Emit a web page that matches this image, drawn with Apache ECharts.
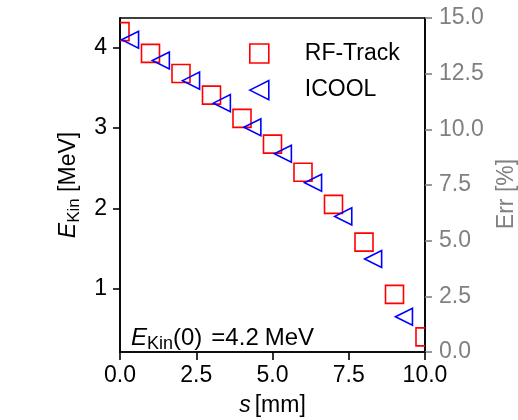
<!DOCTYPE html>
<html>
<head>
<meta charset="utf-8">
<script src="https://cdn.jsdelivr.net/npm/echarts@6/dist/echarts.min.js"></script>
<style>
  html, body { margin: 0; padding: 0; background: #fff; }
  #chart { width: 518px; height: 420px; }
</style>
</head>
<body>
<div id="chart"></div>
<script>
// Kinetic energy along the structure: RF-Track vs ICOOL
const sRFTrack = [0, 1, 2, 3, 4, 5, 6, 7, 8, 9, 10];
const eRFTrack = [4.2, 3.93, 3.68, 3.41, 3.12, 2.80, 2.45, 2.05, 1.58, 0.93, 0.40];
const sICOOL = [0.33, 1.34, 2.33, 3.34, 4.34, 5.34, 6.33, 7.32, 8.30, 9.31];
const eICOOL = [4.10, 3.84, 3.59, 3.31, 3.01, 2.68, 2.32, 1.90, 1.37, 0.65];
const energyTicks = [1, 2, 3, 4];

const FONT = 'Liberation Sans, Arial, Helvetica, sans-serif';
const FS = 23;
const RED = '#ff0000';
const BLUE = '#0000ff';
const GRAY = '#808080';
const SYM = 18;     // marker side length in px
const LW = 1.6;

const toPairs = (xs, ys) => xs.map((x, i) => [x, ys[i]]);

function richBase(size, subSize) {
  return {
    n: { fontFamily: FONT, fontSize: size, lineHeight: 30, verticalAlign: 'middle', color: '#000' },
    i: { fontFamily: FONT, fontSize: size, fontStyle: 'italic', lineHeight: 30, verticalAlign: 'middle', color: '#000' },
    sub: { fontFamily: FONT, fontSize: subSize, lineHeight: 19, verticalAlign: 'bottom', color: '#000' }
  };
}

function squareItem(params, api) {
  const p = api.coord([api.value(0), api.value(1)]);
  const h = SYM / 2;
  return {
    type: 'rect',
    shape: { x: p[0] - h, y: p[1] - h, width: SYM, height: SYM },
    style: { fill: 'none', stroke: RED, lineWidth: LW }
  };
}

function triangleItem(params, api) {
  const p = api.coord([api.value(0), api.value(1)]);
  const h = SYM / 2 - 0.5;
  return {
    type: 'polygon',
    shape: { points: [[p[0] - h, p[1]], [p[0] + h, p[1] - h], [p[0] + h, p[1] + h]] },
    style: { fill: 'none', stroke: BLUE, lineWidth: LW, lineJoin: 'miter' }
  };
}

const chart = echarts.init(document.getElementById('chart'), null, { renderer: 'canvas' });

const annotationRich = richBase(24, 18);
annotationRich.gapL = { fontFamily: FONT, fontSize: 24, lineHeight: 30, verticalAlign: 'middle', padding: [0, 0, 0, 9] };
annotationRich.gapR = { fontFamily: FONT, fontSize: 24, lineHeight: 30, verticalAlign: 'middle', padding: [0, 0, 0, 6] };

chart.setOption({
  animation: false,
  backgroundColor: '#fff',
  textStyle: { fontFamily: FONT },
  grid: {
    left: 120, right: 93, top: 18, bottom: 68,
    outerBoundsMode: 'none',
    containLabel: false,
    show: true, borderColor: '#000', borderWidth: LW, backgroundColor: 'transparent'
  },
  legend: {
    orient: 'vertical',
    left: 249, top: 42,
    padding: 0,
    itemWidth: 19, itemHeight: 19, itemGap: 13.6,
    textStyle: { fontFamily: FONT, fontSize: FS, lineHeight: 23, color: '#000', padding: [0, 0, 0, 31] },
    data: [
      { name: 'RF-Track', icon: 'rect',
        itemStyle: { color: 'rgba(0,0,0,0)', borderColor: RED, borderWidth: LW } },
      { name: 'ICOOL', icon: 'path://M0,10L20,0L20,20Z',
        itemStyle: { color: 'rgba(0,0,0,0)', borderColor: BLUE, borderWidth: LW } }
    ]
  },
  xAxis: {
    type: 'value',
    min: 0, max: 10, interval: 2.5,
    name: '{i|s}{n|[mm]}',
    nameLocation: 'middle',
    nameGap: 39,
    nameTextStyle: { rich: Object.assign(richBase(FS, 17), {
      i: { fontFamily: FONT, fontSize: FS, fontStyle: 'italic', lineHeight: 30, color: '#000', padding: [0, 4, 0, 0] }
    }) },
    axisLine: { show: true, lineStyle: { color: '#000', width: LW } },
    axisTick: { show: true, inside: false, length: 8, lineStyle: { color: '#000', width: LW } },
    axisLabel: { fontFamily: FONT, fontSize: FS, color: '#000', margin: 12,
      formatter: v => v.toFixed(1) },
    splitLine: { show: false }
  },
  yAxis: [
    {
      type: 'value',
      position: 'left',
      min: 0.212, max: 4.37,
      name: '{i|E}{sub|Kin}{n| [MeV]}',
      nameLocation: 'middle',
      nameGap: 36,
      nameTextStyle: { rich: richBase(FS, 17) },
      axisLine: { show: true, lineStyle: { color: '#000', width: LW } },
      axisTick: { show: true, inside: false, length: 7, customValues: energyTicks,
        lineStyle: { color: '#000', width: LW } },
      axisLabel: { fontFamily: FONT, fontSize: FS, color: '#000', margin: 13,
        customValues: energyTicks },
      splitLine: { show: false }
    },
    {
      type: 'value',
      position: 'right',
      min: 0, max: 15, interval: 2.5,
      name: 'Err [%]',
      nameLocation: 'middle',
      nameGap: 64,
      nameTextStyle: { fontFamily: FONT, fontSize: FS, color: GRAY, padding: [0, 18, 0, 0] },
      axisLine: { show: true, lineStyle: { color: '#000', width: LW } },
      axisTick: { show: true, inside: false, length: 7, lineStyle: { color: GRAY, width: LW } },
      axisLabel: { fontFamily: FONT, fontSize: FS, color: GRAY, margin: 14,
        formatter: v => v.toFixed(1) },
      splitLine: { show: false }
    }
  ],
  graphic: [
    {
      type: 'text',
      left: 131, top: 326,
      z: 10,
      style: {
        text: '{i|E}{sub|Kin}{n|(0)}{gapL|=}{n|4.2}{gapR|MeV}',
        rich: annotationRich
      }
    }
  ],
  series: [
    {
      name: 'RF-Track',
      type: 'custom',
      xAxisIndex: 0, yAxisIndex: 0,
      clip: true,
      renderItem: squareItem,
      itemStyle: { color: RED },
      encode: { x: 0, y: 1 },
      data: toPairs(sRFTrack, eRFTrack),
      z: 3
    },
    {
      name: 'ICOOL',
      type: 'custom',
      xAxisIndex: 0, yAxisIndex: 0,
      clip: true,
      renderItem: triangleItem,
      itemStyle: { color: BLUE },
      encode: { x: 0, y: 1 },
      data: toPairs(sICOOL, eICOOL),
      z: 3
    }
  ]
});
</script>
</body>
</html>
